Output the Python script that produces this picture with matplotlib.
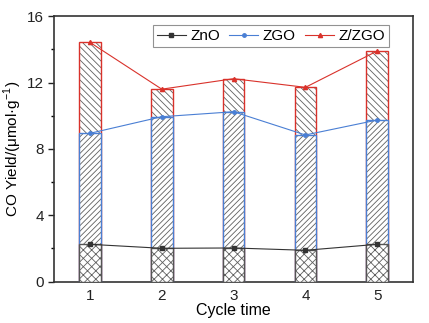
import numpy as np
import matplotlib.pyplot as plt

plt.rcParams['font.family'] = ['Liberation Sans', 'DejaVu Sans']
plt.rcParams['hatch.linewidth'] = 0.6

# Data
cycles = [1, 2, 3, 4, 5]
zno = [2.25, 2.01, 2.03, 1.89, 2.25]
zgo = [8.94, 9.94, 10.24, 8.84, 9.74]
zzgo = [14.42, 11.60, 12.23, 11.71, 13.90]

fig = plt.figure(figsize=(4.29, 3.23), dpi=100)
ax = fig.add_axes([0.126, 0.128, 0.837, 0.822])

w = 0.3
hc = '#606060'
# overlapping bars drawn from zero, largest first; hatch in gray, outline in series colour
for vals, hatch, ec, z in [(zzgo, '\\\\\\\\\\', '#d9322b', 2),
                           (zgo, '//////', '#4a7fd4', 3),
                           (zno, 'xxxx', '#555555', 4)]:
    ax.bar(cycles, vals, width=w, facecolor='white', edgecolor=hc, hatch=hatch, linewidth=0, zorder=z)
    ax.bar(cycles, vals, width=w, fill=False, edgecolor=ec, linewidth=1.0, zorder=z)

ax.plot(cycles, zno, color='#333333', marker='s', markersize=2.5, linewidth=0.8, label='ZnO', zorder=5)
ax.plot(cycles, zgo, color='#4a7fd4', marker='o', markersize=2.5, linewidth=0.8, label='ZGO', zorder=5)
ax.plot(cycles, zzgo, color='#d9322b', marker='^', markersize=3, linewidth=0.8, label='Z/ZGO', zorder=5)

ax.set_xlim(0.5, 5.5)
ax.set_ylim(0, 16)
ax.set_xticks(cycles)
ax.set_yticks([0, 4, 8, 12, 16])
ax.set_yticks([2, 6, 10, 14], minor=True)
ax.tick_params(axis='both', labelsize=11, colors='#222222', width=1, length=4)
ax.tick_params(axis='y', which='minor', length=2.5, width=1)
ax.tick_params(axis='x', length=0, pad=5)

for s in ax.spines.values():
    s.set_linewidth(1.2)
    s.set_color('#333333')

ax.set_xlabel('Cycle time', fontsize=11.5, labelpad=0)
ax.set_ylabel('CO Yield/(μmol·g$^{\\mathregular{-1}}$)', fontsize=11, labelpad=2)

leg = ax.legend(loc='upper right', ncol=3, fontsize=11, frameon=True, fancybox=False,
                edgecolor='#777777', handlelength=1.9, columnspacing=0.6, handletextpad=0.3,
                borderpad=0.25, borderaxespad=0, bbox_to_anchor=(0.933, 0.966))
leg.get_frame().set_linewidth(0.8)

plt.savefig('out.png', dpi=100)
